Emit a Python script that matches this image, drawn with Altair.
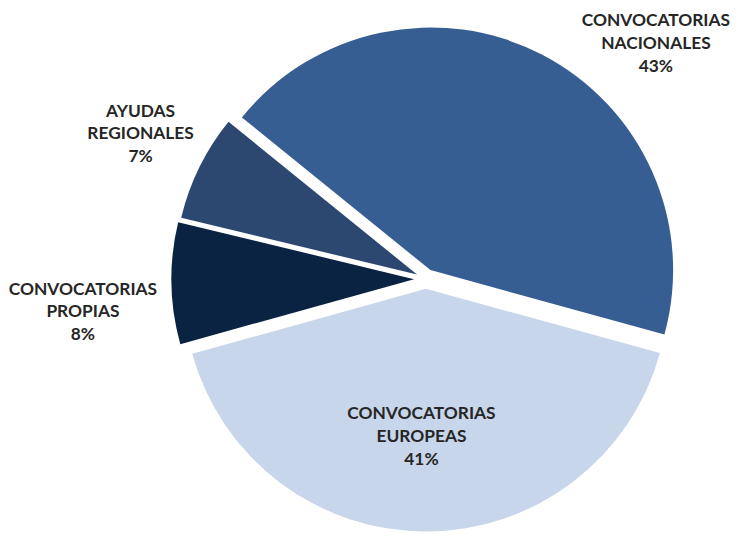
import math
import altair as alt
import pandas as pd

# ---- data ----
categories = ["CONVOCATORIAS NACIONALES", "CONVOCATORIAS EUROPEAS",
              "CONVOCATORIAS PROPIAS", "AYUDAS REGIONALES"]
label_lines = [["CONVOCATORIAS", "NACIONALES"],
               ["CONVOCATORIAS", "EUROPEAS"],
               ["CONVOCATORIAS", "PROPIAS"],
               ["AYUDAS", "REGIONALES"]]
values = [43, 41, 8, 7]
colors = ["#375E92", "#C7D6EA", "#0A2342", "#2C4870"]

# ---- style ----
W, H = 723, 520
CX, CY = 418, 271          # pie centre in view coordinates
R = 245                    # pie radius
EXPLODE = [10, 10, 12, 10] # explode distance per slice
START = math.radians(-51)  # start angle of first slice
LINE_H = 23
label_radius = [332, 160, 348, 323]
label_theta_offset = [0.30, 0.03, -0.08, 0.01]

total = sum(values)
labels = ["\n".join(l + [f"{v}%"]) for l, v in zip(label_lines, values)]
df = pd.DataFrame({"category": categories, "value": values,
                   "order": list(range(len(values))), "label": labels})

theta_scale = alt.Scale(domain=[0, total], range=[START, START + 2 * math.pi])

layers = []
cum = 0
for i, v in enumerate(values):
    mid = START + (cum + v / 2) / total * 2 * math.pi
    cum += v
    dx = EXPLODE[i] * math.sin(mid)
    dy = -EXPLODE[i] * math.cos(mid)
    base = (alt.Chart(df)
            .transform_window(v1="sum(value)", sort=[alt.SortField("order")],
                              frame=[None, 0])
            .transform_calculate(v0="datum.v1 - datum.value")
            .transform_calculate(mid="(datum.v0 + datum.v1) / 2")
            .transform_filter(alt.datum.order == i))
    arc = base.mark_arc(radius=R).encode(
        theta=alt.Theta("v0:Q", scale=theta_scale),
        theta2="v1:Q",
        color=alt.value(colors[i]),
        x=alt.value(CX + dx),
        y=alt.value(CY + dy),
    )
    text = base.mark_text(font="Lato", fontWeight="bold", fontSize=17.5,
                          lineBreak="\n", lineHeight=LINE_H, color="#262626",
                          align="center", baseline="middle", dy=-LINE_H,
                          thetaOffset=label_theta_offset[i]).encode(
        theta=alt.Theta("mid:Q", scale=theta_scale, stack=False),
        radius=alt.value(label_radius[i]),
        text="label:N",
        x=alt.value(CX),
        y=alt.value(CY),
    )
    layers += [arc, text]

chart = (alt.layer(*layers)
         .properties(width=W, height=H, padding=0)
         .configure_view(stroke=None))

chart.save("out.html", embed_options={"renderer": "svg", "actions": False})
